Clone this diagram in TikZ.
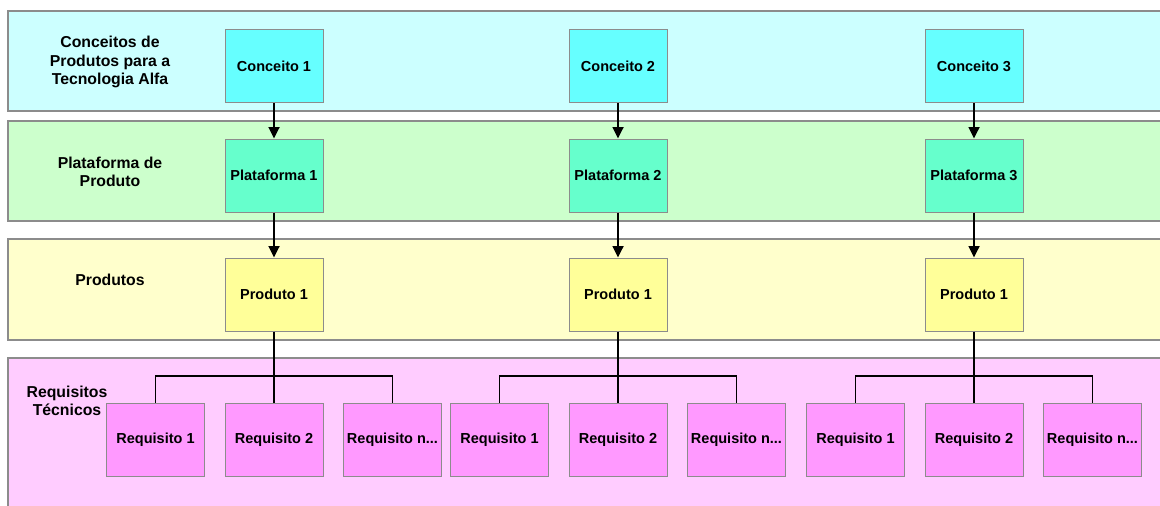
\documentclass[tikz,border=0pt]{standalone}
\usepackage{fontspec}
\setmainfont{Liberation Sans}
\usetikzlibrary{arrows.meta}
\definecolor{bandA}{HTML}{CCFFFF}
\definecolor{boxA}{HTML}{66FFFF}
\definecolor{bandB}{HTML}{CCFFCC}
\definecolor{boxB}{HTML}{66FFCC}
\definecolor{bandC}{HTML}{FFFFCC}
\definecolor{boxC}{HTML}{FFFF99}
\definecolor{bandD}{HTML}{FFCCFF}
\definecolor{boxD}{HTML}{FF99FF}
\definecolor{edge}{HTML}{8C8C8C}
\tikzset{
  band/.style={draw=edge, line width=1.2pt},
  itembox/.style={draw=edge, line width=1pt, minimum width=98pt, minimum height=73pt,
    inner sep=0pt, font=\fontsize{14.5}{16}\selectfont\bfseries},
  rowlabel/.style={align=center, font=\fontsize{15.8}{18.5}\selectfont\bfseries},
  flow/.style={line width=1.8pt, -{Triangle[width=11pt,length=11.5pt]}},
  link/.style={line width=1.8pt},
  bus/.style={line width=1.1pt}
}
\begin{document}
\begin{tikzpicture}[x=1pt,y=-1pt]
\useasboundingbox (0,0) rectangle (1160,506);
% horizontal bands
\path[band, fill=bandA] (1170,11) -- (8,11) -- (8,111) -- (1170,111);
\path[band, fill=bandB] (1170,121) -- (8,121) -- (8,221) -- (1170,221);
\path[band, fill=bandC] (1170,239) -- (8,239) -- (8,340) -- (1170,340);
\path[band, fill=bandD] (1170,358) -- (8,358) -- (8,520) -- (1170,520);
% row labels
\node[rowlabel] (labA) at (110,62) {Conceitos de\\Produtos para a\\Tecnologia Alfa};
\node[rowlabel] (labB) at (110,172) {Plataforma de\\Produto};
\node[rowlabel] (labC) at (110,280) {Produtos};
\node[rowlabel] (labD) at (67,401) {Requisitos\\Técnicos};
% columns
\foreach \i/\cx in {1/274,2/618,3/974}{
  \node[itembox, fill=boxA] (c\i) at (\cx,66) {Conceito \i};
  \node[itembox, fill=boxB] (p\i) at (\cx,175.5) {Plataforma \i};
  \node[itembox, fill=boxC] (d\i) at (\cx,294.5) {Produto 1};
  \node[itembox, fill=boxD] (r\i a) at (\cx-118.5,440) {Requisito 1};
  \node[itembox, fill=boxD] (r\i b) at (\cx,440) {Requisito 2};
  \node[itembox, fill=boxD] (r\i n) at (\cx+118.5,440) {Requisito n...};
  \draw[flow] (c\i.south) -- (p\i.north);
  \draw[flow] (p\i.south) -- (d\i.north);
  \draw[link] (d\i.south) -- (r\i b.north);
  \draw[bus] (r\i a.north) -- ++(0,-27) -| (r\i n.north);
}
\end{tikzpicture}
\end{document}
